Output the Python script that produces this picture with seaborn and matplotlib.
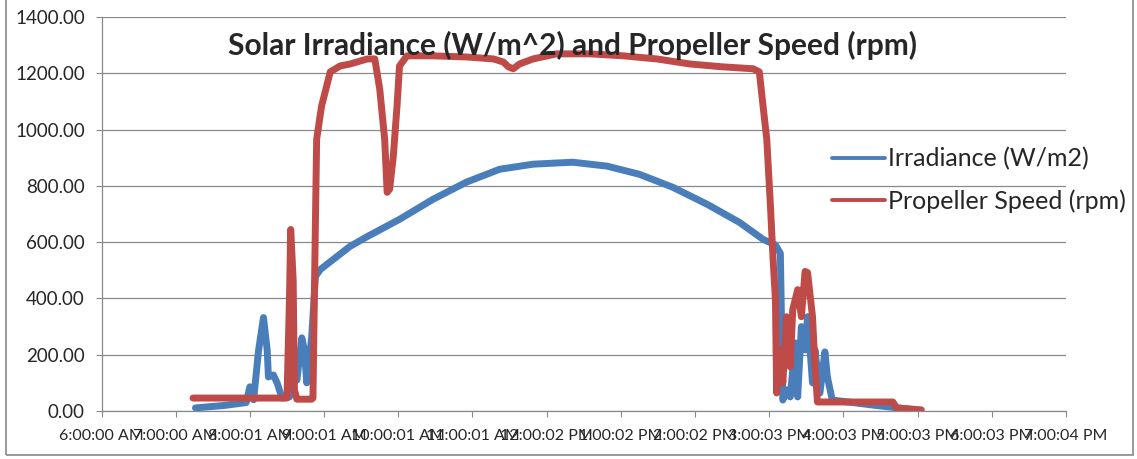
import numpy as np
import pandas as pd
import matplotlib
matplotlib.use('Agg')
import matplotlib.pyplot as plt
from matplotlib.patches import Rectangle
from matplotlib.ticker import FormatStrFormatter
import seaborn as sns

# readings taken off the chart, time of day (24h) and value
irr_time = ['7:16', '7:40', '7:57', '8:00', '8:03', '8:07', '8:11', '8:14', '8:15',
            '8:19', '8:22', '8:26', '8:32', '8:35', '8:38', '8:42', '8:44', '8:46',
            '8:50', '8:53', '8:57', '9:21', '9:35', '10:01', '10:28', '10:55', '11:22',
            '11:49', '12:21', '12:49', '13:15', '13:42', '14:10', '14:36', '14:55',
            '15:05', '15:09', '15:11', '15:14', '15:17', '15:21', '15:23', '15:26',
            '15:29', '15:31', '15:35', '15:37', '15:41', '15:45', '15:47', '15:51',
            '16:24', '17:02']
irr_vals = [11, 20, 30, 86, 40, 215, 332, 217, 121,
            128, 100, 46, 50, 182, 110, 260, 217, 100,
            264, 478, 503, 585, 620, 681, 752, 813, 859,
            877, 884, 870, 841, 795, 734, 670, 610,
            590, 560, 39, 75, 50, 242, 50, 300,
            217, 335, 100, 217, 64, 210, 121, 39,
            21, 2]

rpm_time = ['7:14', '8:30', '8:32', '8:33', '8:35', '8:36', '8:38', '8:50', '8:51',
            '8:53', '8:54', '8:58', '9:05', '9:13', '9:21', '9:35', '9:41', '9:45',
            '9:49', '9:51', '9:53', '9:56', '9:59', '10:01', '10:07', '10:28', '10:55',
            '11:17', '11:25', '11:29', '11:33', '11:38', '11:49', '12:08', '12:35',
            '13:02', '13:29', '13:56', '14:22', '14:47', '14:52', '14:55', '14:58',
            '15:01', '15:03', '15:05', '15:06', '15:09', '15:11', '15:14', '15:17',
            '15:19', '15:23', '15:26', '15:29', '15:31', '15:35', '15:37', '15:39',
            '16:40', '16:43', '17:03']
rpm_vals = [46, 46, 396, 645, 467, 75, 42, 42, 46,
            670, 966, 1084, 1205, 1226, 1233, 1251, 1251, 1144,
            966, 777, 788, 906, 1084, 1226, 1262, 1262, 1258,
            1251, 1240, 1223, 1216, 1233, 1251, 1269, 1269,
            1262, 1251, 1233, 1223, 1216, 1205, 1084, 966,
            727, 549, 396, 64, 217, 100, 335, 157,
            360, 431, 335, 496, 492, 335, 157, 32,
            32, 11, 4]

hour_ticks = list(range(6, 20))
hour_labels = ['6:00:00 AM', '7:00:00 AM', '8:00:01 AM', '9:00:01 AM', '10:00:01 AM',
               '11:00:01 AM', '12:00:02 PM', '1:00:02 PM', '2:00:02 PM', '3:00:03 PM',
               '4:00:03 PM', '5:00:03 PM', '6:00:03 PM', '7:00:04 PM']
y_ticks = [0, 200, 400, 600, 800, 1000, 1200, 1400]


def to_hours(times):
    out = []
    for t in times:
        h, m = t.split(':')
        out.append(int(h) + int(m) / 60)
    return out


irr = pd.DataFrame({'hour': to_hours(irr_time), 'value': irr_vals})
rpm = pd.DataFrame({'hour': to_hours(rpm_time), 'value': rpm_vals})

sns.set_style('white')
plt.rcParams['font.family'] = ['Lato', 'DejaVu Sans']

fig = plt.figure(figsize=(11.37, 4.59), dpi=100)
ax = fig.add_axes([101.5 / 1137, 1 - 411 / 459, (1066 - 101.5) / 1137, (411 - 17) / 459])

blue = '#4A7EBB'
red = '#BE4B48'
sns.lineplot(data=irr, x='hour', y='value', ax=ax, color=blue, lw=5,
             estimator=None, sort=False, label='Irradiance (W/m2)')
sns.lineplot(data=rpm, x='hour', y='value', ax=ax, color=red, lw=5,
             estimator=None, sort=False, label='Propeller Speed (rpm)')

ax.set_xlim(6, 19)
ax.set_ylim(0, 1400)
ax.set_xticks(hour_ticks)
ax.set_xticklabels(hour_labels, fontsize=11.5)
ax.set_yticks(y_ticks)
ax.yaxis.set_major_formatter(FormatStrFormatter('%.2f'))
ax.tick_params(axis='y', labelsize=13.5, direction='out', length=4, pad=8,
               color='#898989', left=True)
ax.tick_params(axis='x', direction='out', length=4, pad=9, color='#898989', bottom=True)
ax.set_xlabel('')
ax.set_ylabel('')

ax.grid(axis='y', color='#898989', lw=0.9)
ax.grid(axis='x', visible=False)
ax.set_axisbelow(True)
for side in ['top', 'right']:
    ax.spines[side].set_visible(False)
for side in ['left', 'bottom']:
    ax.spines[side].set_color('#898989')
    ax.spines[side].set_linewidth(0.9)

leg = ax.legend(loc='center left', bbox_to_anchor=(819 / 1137, 1 - 180 / 459),
                bbox_transform=fig.transFigure, frameon=False, fontsize=18,
                handlelength=2.15, handletextpad=0.12, labelspacing=0.75, borderpad=0)
for line in leg.get_lines():
    line.set_linewidth(2.8)

fig.text(572 / 1137, 1 - 45 / 459, 'Solar Irradiance (W/m^2) and Propeller Speed (rpm)',
         ha='center', va='center', fontsize=21.5, fontweight='bold')

# chart area border
fig.patches.append(Rectangle((6 / 1137, 4 / 459), 1127 / 1137, 1.2, transform=fig.transFigure,
                             fill=False, edgecolor='#898989', lw=1.2))

fig.savefig('out.png', dpi=100)
